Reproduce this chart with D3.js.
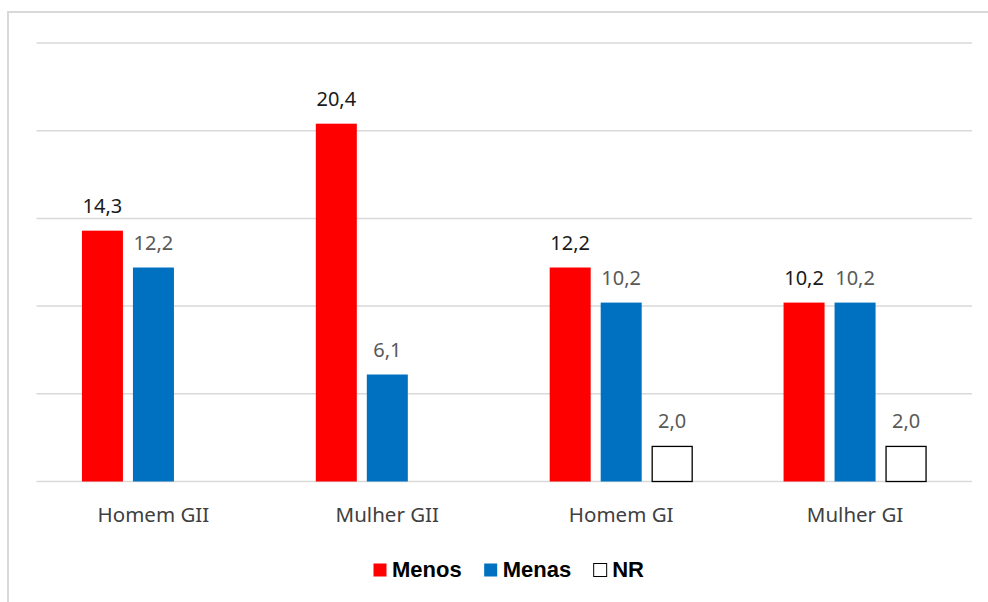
<!DOCTYPE html>
<html>
<head>
<meta charset="utf-8">
<script src="https://cdn.jsdelivr.net/npm/d3@7"></script>
<style>
  body { margin: 0; background: #fff; }
  svg { display: block; }
</style>
</head>
<body>
<svg id="chart" width="988" height="602"></svg>
<script>
const categories = ["Homem GII", "Mulher GII", "Homem GI", "Mulher GI"];
const seriesNames = ["Menos", "Menas", "NR"];
const menos = [14.3, 20.4, 12.2, 10.2];
const menas = [12.2, 6.1, 10.2, 10.2];
const nr = [null, null, 2.0, 2.0];
const yTicks = [0, 5, 10, 15, 20, 25];

const fills = ['#ff0000', '#0070c0', '#ffffff'];
const strokes = ['none', 'none', '#000000'];
const labelColors = ['#1a1a1a', '#595959', '#595959'];

const svg = d3.select('#chart');
const values = [menos, menas, nr];

// frame
svg.append('path')
    .attr('d', 'M8,602 V12 H988')
    .attr('fill', 'none')
    .attr('stroke', '#d9d9d9')
    .attr('stroke-width', 2);

const plotLeft = 36.5, plotRight = 972, plotTop = 43, plotBottom = 481.5;

const x = d3.scaleBand().domain(categories).range([plotLeft, plotRight]);
const y = d3.scaleLinear().domain([0, 25]).range([plotBottom, plotTop]);

const barW = 41, step = 51;

// gridlines
svg.append('g').selectAll('line')
    .data(yTicks)
    .enter().append('line')
    .attr('x1', plotLeft).attr('x2', plotRight)
    .attr('y1', d => y(d)).attr('y2', d => y(d))
    .attr('stroke', '#d9d9d9')
    .attr('stroke-width', 1.5);

// bars
const rows = [];
categories.forEach((c, i) => {
    values.forEach((s, j) => {
        if (s[i] != null) rows.push({ cat: c, j: j, v: s[i] });
    });
});

const bx = d => x(d.cat) + x.bandwidth() / 2 - step - barW / 2 + d.j * step;

svg.append('g').selectAll('rect')
    .data(rows)
    .enter().append('rect')
    .attr('x', d => bx(d) + (d.j == 2 ? 0.5 : 0))
    .attr('y', d => y(d.v))
    .attr('width', d => barW - (d.j == 2 ? 1 : 0))
    .attr('height', d => y(0) - y(d.v))
    .style('fill', d => fills[d.j])
    .style('stroke', d => strokes[d.j])
    .style('stroke-width', 1.3);

// value labels
svg.append('g').selectAll('text')
    .data(rows)
    .enter().append('text')
    .attr('x', d => bx(d) + barW / 2)
    .attr('y', d => y(d.v) - 18)
    .attr('text-anchor', 'middle')
    .style('font-family', '"Noto Sans", sans-serif')
    .style('font-size', '20px')
    .style('fill', d => labelColors[d.j])
    .text(d => d.v.toFixed(1).replace('.', ','));

// category labels
svg.append('g').selectAll('text')
    .data(categories)
    .enter().append('text')
    .attr('x', d => x(d) + x.bandwidth() / 2)
    .attr('y', 522)
    .attr('text-anchor', 'middle')
    .style('font-family', '"Noto Sans", sans-serif')
    .style('font-size', '20.5px')
    .style('fill', '#404040')
    .text(d => d);

// legend
const legend = svg.append('g');
let lx = 373;
seriesNames.forEach((name, j) => {
    legend.append('rect')
        .attr('x', lx + 0.5).attr('y', 563.5)
        .attr('width', 13).attr('height', 13)
        .style('fill', fills[j])
        .style('stroke', strokes[j])
        .style('stroke-width', 1);
    const t = legend.append('text')
        .attr('x', lx + 19)
        .attr('y', 577)
        .style('font-family', '"Liberation Sans", Arial, sans-serif')
        .style('font-weight', 'bold')
        .style('font-size', '22px')
        .style('fill', '#000')
        .text(name);
    lx += 19 + t.node().getComputedTextLength() + 22;
});
</script>
</body>
</html>
